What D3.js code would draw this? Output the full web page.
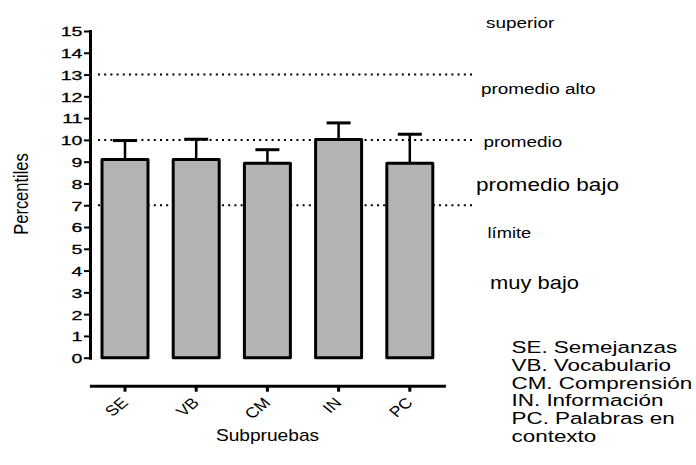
<!DOCTYPE html>
<html>
<head>
<meta charset="utf-8">
<script src="https://cdn.jsdelivr.net/npm/d3@7"></script>
<style>
  html, body { margin: 0; padding: 0; background: #fff; }
  svg { display: block; }
  text { font-family: "Liberation Sans", Arial, Helvetica, sans-serif; fill: #000; }
</style>
</head>
<body>
<svg id="chart" width="696" height="465"></svg>
<script>
// Subtest means and upper error values (percentile scale)
const categories = ["SE", "VB", "CM", "IN", "PC"];
const means = [9.1, 9.1, 8.93, 10.02, 8.93];
const errors = [0.87, 0.93, 0.62, 0.76, 1.33];
const yTicks = d3.range(0, 16);
const cutoffs = [13, 10, 7];

// Band names on the right side of the plot
const bandLabels = [
  { text: "superior", size: 15.5 },
  { text: "promedio alto", size: 15.5 },
  { text: "promedio", size: 15.5 },
  { text: "promedio bajo", size: 18.5 },
  { text: "límite", size: 15 },
  { text: "muy bajo", size: 18 }
];
// Abbreviation key
const keyLines = [
  "SE. Semejanzas",
  "VB. Vocabulario",
  "CM. Comprensión",
  "IN. Información",
  "PC. Palabras en",
  "contexto"
];

const SX = 1.22; // horizontal text stretch used throughout

const svg = d3.select("#chart");

const y = d3.scaleLinear().domain([0, 15]).range([357.7, 31]);
const x = d3.scaleBand().domain(categories).range([89.4, 445.4])
  .paddingInner(0.354).paddingOuter(0.177);

function stretched(sel, px, py, str, size, anchor, sx) {
  return sel.append("text")
    .attr("transform", `translate(${px},${py}) scale(${sx},1)`)
    .attr("text-anchor", anchor || "start")
    .style("font-size", size + "px")
    .text(str);
}

// Dotted cut-off lines (drawn first so the bars cover them)
svg.append("g").selectAll("line").data(cutoffs).join("line")
  .attr("x1", 98).attr("x2", 472)
  .attr("y1", d => y(d)).attr("y2", d => y(d))
  .attr("stroke", "#000").attr("stroke-width", 2)
  .attr("stroke-dasharray", "2,4.2");

// Bars
svg.append("g").selectAll("rect").data(categories).join("rect")
  .attr("x", d => x(d))
  .attr("width", x.bandwidth())
  .attr("y", (d, i) => y(means[i]))
  .attr("height", (d, i) => y(0) - y(means[i]))
  .attr("fill", "#b3b3b3")
  .attr("stroke", "#000")
  .attr("stroke-width", 3)
  .attr("stroke-linejoin", "round");

// Error bars (upper only)
const eb = svg.append("g").selectAll("g").data(categories).join("g");
eb.append("line")
  .attr("x1", d => x(d) + x.bandwidth() / 2)
  .attr("x2", d => x(d) + x.bandwidth() / 2)
  .attr("y1", (d, i) => y(means[i]))
  .attr("y2", (d, i) => y(means[i] + errors[i]))
  .attr("stroke", "#000").attr("stroke-width", 2.5);
eb.append("line")
  .attr("x1", d => x(d) + x.bandwidth() / 2 - 12)
  .attr("x2", d => x(d) + x.bandwidth() / 2 + 12)
  .attr("y1", (d, i) => y(means[i] + errors[i]))
  .attr("y2", (d, i) => y(means[i] + errors[i]))
  .attr("stroke", "#000").attr("stroke-width", 3);

// Y axis
const yAxis = svg.append("g")
  .attr("transform", "translate(90,0)")
  .call(d3.axisLeft(y).tickValues(yTicks).tickSize(6).tickSizeOuter(0));
yAxis.select(".domain").attr("stroke-width", 3).attr("stroke-linecap", "square");
yAxis.selectAll(".tick line").attr("stroke-width", 2);
yAxis.selectAll(".tick text")
  .attr("x", null).attr("dy", "0.36em")
  .attr("transform", "translate(-7.5,0) scale(1.45,1)")
  .attr("text-anchor", "end")
  .style("font-size", "13.5px")
  .style("font-family", "\"Liberation Sans\", Arial, sans-serif")
  .style("stroke", "#000").style("stroke-width", 0.3);

// X axis
const xAxis = svg.append("g")
  .attr("transform", "translate(0,385.7)")
  .call(d3.axisBottom(x).tickSize(6).tickSizeOuter(0));
xAxis.select(".domain").attr("stroke-width", 3);
xAxis.selectAll(".tick line").attr("stroke-width", 3);
xAxis.selectAll(".tick text").remove();
xAxis.selectAll(".tick").append("text")
  .attr("transform", `translate(4,18) scale(${SX},1) rotate(-45)`)
  .attr("text-anchor", "end")
  .style("font-size", "14.5px")
  .text(d => d);

// Axis titles
svg.append("text")
  .attr("transform", `translate(28,194) rotate(-90) scale(1,${SX})`)
  .attr("text-anchor", "middle")
  .style("font-size", "16.5px")
  .text("Percentiles");
stretched(svg, 267.5, 441, "Subpruebas", 15.7, "middle", SX);

// Band names
const bandPos = [[486, 28], [481, 94], [483.5, 146.5], [476, 191], [487.5, 237.5], [490, 289]];
bandLabels.forEach((b, i) => stretched(svg, bandPos[i][0], bandPos[i][1], b.text, b.size, "start", SX));

// Key
keyLines.forEach((t, i) => stretched(svg, 511.5, 353.3 + i * 17.7, t, 17, "start", 1.32));
</script>
</body>
</html>
